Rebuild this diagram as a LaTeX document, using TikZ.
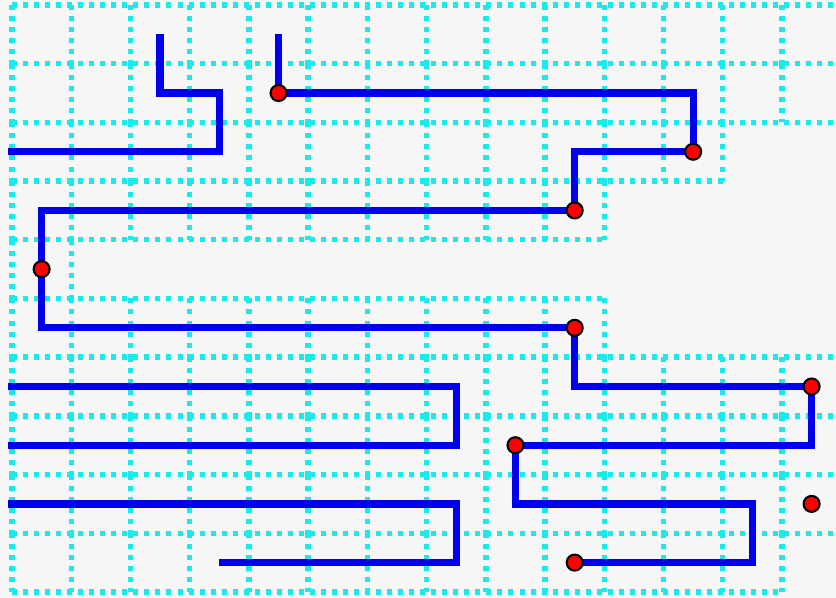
\documentclass[tikz,border=0pt]{standalone}
\usetikzlibrary{positioning}
\definecolor{fondo}{RGB}{246,246,246}
\definecolor{rejilla}{RGB}{25,235,235}
\definecolor{camino}{RGB}{0,0,235}
\begin{document}
\begin{tikzpicture}[x=1cm, y=0.991cm,
  grd/.style={draw=rejilla, line width=2.6pt, dash pattern=on 2.4pt off 2.9pt},
  wire/.style={draw=camino, line width=3.5pt},
  dot/.style={circle, draw=black, fill=red, line width=1pt, minimum size=0.27cm, inner sep=0pt}]
  % marco
  \fill[fondo] (-0.203,-0.102) rectangle (13.912,10.085);
  \useasboundingbox (-0.203,-0.102) rectangle (13.912,10.085);
  \clip (-0.203,-0.102) rectangle (13.912,10.085);
  % rejilla (fila / ultima columna)
  \foreach \r/\n in {0/13,1/13,2/11,3/9,4/0,5/9,6/13,7/13,8/13,9/12}{
    \pgfmathtruncatemacro\m{\n+1}
    \draw[grd] (0,10-\r) -- (\m,10-\r);
    \draw[grd] (0,9-\r) -- (\m,9-\r);
    \foreach \c in {0,...,\m} \draw[grd] (\c,10-\r) -- (\c,9-\r);
  }
  % centros de celda
  \foreach \c in {0,...,13}
    \foreach \r in {0,...,9}
      \coordinate (p\c-\r) at (\c+0.5,9.5-\r);
  \coordinate (w2) at (-0.07,7.5);
  \coordinate (w6) at (-0.07,3.5);
  \coordinate (w7) at (-0.07,2.5);
  \coordinate (w8) at (-0.07,1.5);
  % caminos
  \draw[wire] (p2-0) -- (p2-1) -- (p3-1) -- (p3-2) -- (w2);
  \draw[wire] (p4-0) -- (p4-1) -- (p11-1) -- (p11-2) -- (p9-2) -- (p9-3)
    -- (p0-3) -- (p0-5) -- (p9-5) -- (p9-6) -- (p13-6) -- (p13-7)
    -- (p8-7) -- (p8-8) -- (p12-8) -- (p12-9) -- (p9-9);
  \draw[wire] (w6) -- (p7-6) -- (p7-7) -- (w7);
  \draw[wire] (w8) -- (p7-8) -- (p7-9) -- (p3-9);
  % puntos
  \foreach \c/\r in {4/1,11/2,9/3,0/4,9/5,13/6,8/7,13/8,9/9}
    \node[dot] (d\c-\r) at (p\c-\r) {};
\end{tikzpicture}
\end{document}
